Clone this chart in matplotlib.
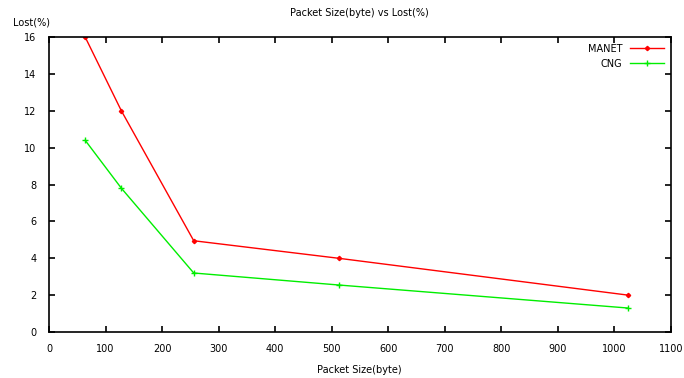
import matplotlib
matplotlib.use('Agg')
from matplotlib import pyplot as plt

# data
packetSizes = [64, 128, 256, 512, 1024]
manetLost = [16.0, 12.0, 4.95, 4.0, 2.0]
cngLost = [10.4, 7.8, 3.2, 2.55, 1.3]

plt.rcParams['font.family'] = 'DejaVu Sans'
plt.rcParams['font.size'] = 7

fig = plt.figure(figsize=(6.84, 3.78), dpi=100)
ax = fig.add_axes([0.0716, 0.1217, 0.9094, 0.7803])

ax.plot(packetSizes, manetLost, color='#ff0000', lw=1, marker='D', ms=2.2,
        label='MANET')
ax.plot(packetSizes, cngLost, color='#00ee00', lw=1, marker='+', ms=5,
        mew=1, label='CNG')

ax.set_xlim(0, 1100)
ax.set_ylim(0, 16)
ax.set_xticks(range(0, 1101, 100))
ax.set_yticks(range(0, 17, 2))
ax.tick_params(direction='in', top=True, right=True, length=4, width=1.2,
               pad=9)
for side in ax.spines.values():
    side.set_linewidth(1.2)

fig.text(0.525, 0.022, 'Packet Size(byte)', ha='center', va='center',
         fontsize=7)
fig.text(0.019, 0.94, 'Lost(%)', ha='left', va='center', fontsize=7)
fig.text(0.525, 0.965, 'Packet Size(byte) vs Lost(%)', ha='center',
         va='center', fontsize=7)

ax.legend(loc='upper right', frameon=False, markerfirst=False,
          handlelength=3.5, borderaxespad=0.3, labelspacing=0.5,
          handletextpad=0.8)

fig.savefig('out.png', dpi=100)
